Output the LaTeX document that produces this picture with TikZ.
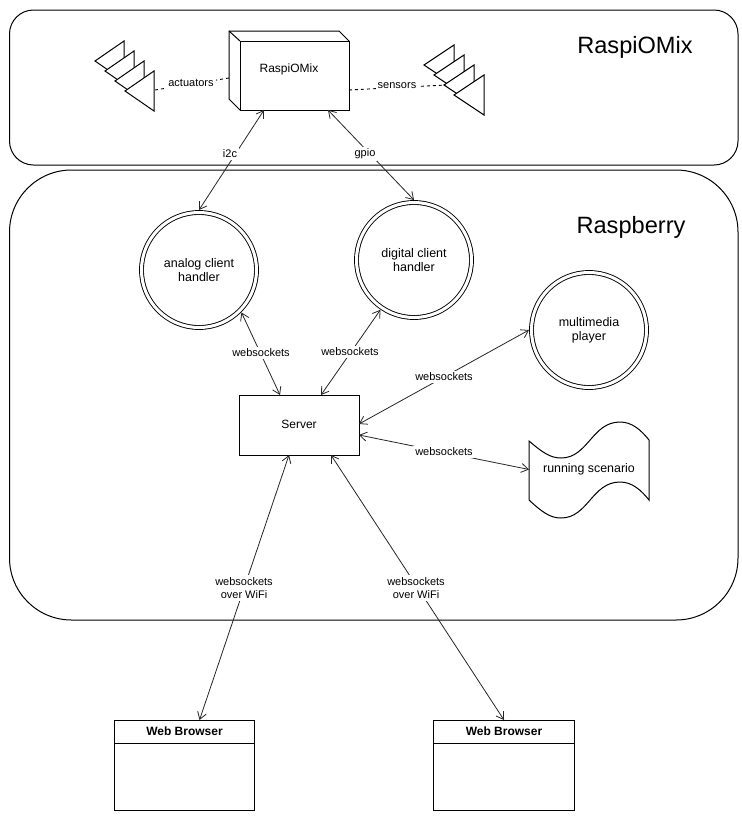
\documentclass[tikz,border=0pt]{standalone}
\usepackage{fontspec}
\setmainfont{Liberation Sans}
\usetikzlibrary{arrows.meta,shapes.geometric}
\tikzset{
  panel/.style={draw,line width=1pt,fill=white,anchor=north west,inner sep=0pt,outer sep=0pt},
  title/.style={font=\fontsize{23.6}{28}\selectfont,inner sep=0pt},
  handler/.style={circle,draw,double,double distance=3pt,line width=.9pt,fill=white,minimum size=115pt,inner sep=0pt,outer sep=2.5pt,align=center,font=\fontsize{12.5}{14}\selectfont},
  plainbox/.style={rectangle,draw,line width=1pt,fill=white,inner sep=0pt,outer sep=0pt,font=\fontsize{12}{14}\selectfont},
  lab/.style={fill=white,inner sep=2pt,align=center,font=\fontsize{11}{13.2}\selectfont},
  conn/.style={{Straight Barb[length=7pt,width=9pt]}-{Straight Barb[length=7pt,width=9pt]},line width=.8pt,black!85},
  dashline/.style={dash pattern=on 3pt off 3pt,line width=.9pt},
  tri/.style={draw,line width=1pt,fill=white,line join=miter},
}
\begin{document}
\begin{tikzpicture}[x=1pt,y=-1pt]
\useasboundingbox (0,0) rectangle (742,820);
% panels
\node[panel,rounded corners=24pt,minimum width=728.5pt,minimum height=155pt] (pi) at (9.5,10) {};
\node[panel,rounded corners=62pt,minimum width=728.5pt,minimum height=450pt] (berry) at (9.5,170) {};
\node[title] (tpi) at (635,47) {RaspiOMix};
\node[title] (tberry) at (631,227) {Raspberry};
% device box
\coordinate (bkA) at (229,31);
\coordinate (bkB) at (339,31);
\coordinate (bkC) at (229,99);
\node[plainbox,minimum width=109pt,minimum height=69pt] (mix) at (294.5,75.5) {};
\draw[line width=1pt,line join=miter] (mix.north east) -- (bkB) -- (bkA) -- (bkC) -- (mix.south west);
\draw[line width=1pt] (bkA) -- (mix.north west);
\node[font=\fontsize{12}{14}\selectfont,inner sep=0pt] (mixt) at (289,69) {RaspiOMix};
% triangles
\foreach \i in {0,1,2,3}{
  \draw[tri] (95+10*\i,61+10*\i) -- (124+10*\i,41+10*\i) -- (124+10*\i,81+10*\i) -- cycle;
  \draw[tri] (424+10*\i,65+10*\i) -- (454+10*\i,45+10*\i) -- (454+10*\i,85+10*\i) -- cycle;
}
\coordinate (act) at (155,90);
\coordinate (sen) at (446,85);
\coordinate (mixl) at (229,78);
\coordinate (mixr) at (349,90);
% client nodes
\node[handler] (analog) at (199,270) {analog client\\handler};
\node[handler] (digital) at (414,260) {digital client\\handler};
\node[handler] (multi) at (589,330) {multimedia\\player};
\node[plainbox,minimum width=120pt,minimum height=60pt] (server) at (299,425) {\raisebox{2pt}{Server}};
% scenario
\draw[line width=1pt,fill=white,line join=miter]
  (529,441) .. controls (542,452) and (550,458) .. (561,458)
  .. controls (588,458) and (592,422) .. (620,422)
  .. controls (632,422) and (641,430) .. (649,440)
  -- (649,500)
  .. controls (641,490) and (632,482) .. (620,482)
  .. controls (592,482) and (588,518) .. (561,518)
  .. controls (550,518) and (542,512) .. (529,500) -- cycle;
\node[inner sep=0pt,minimum width=120pt,minimum height=30pt,outer sep=0pt,font=\fontsize{12.4}{14}\selectfont] (scen) at (589,469.5) {running scenario};
% browsers
\node[plainbox,minimum width=140.5pt,minimum height=90pt] (b1) at (184.5,765) {};
\node[plainbox,minimum width=140.5pt,minimum height=90pt] (b2) at (504,765) {};
\draw[line width=1pt] ([yshift=-23pt]b1.north west) -- ([yshift=-23pt]b1.north east);
\draw[line width=1pt] ([yshift=-23pt]b2.north west) -- ([yshift=-23pt]b2.north east);
\node[font=\bfseries\fontsize{12}{14}\selectfont,inner sep=0pt] (b1t) at (184.5,731) {Web Browser};
\node[font=\bfseries\fontsize{12}{14}\selectfont,inner sep=0pt] (b2t) at (504,731) {Web Browser};
% connectors
\draw[dashline] (act) -- (mixl);
\draw[dashline] (mixr) -- (sen);
\draw[conn] ([xshift=24pt]mix.south west) -- (analog.90);
\draw[conn] ([xshift=-21pt]mix.south east) -- (digital.90);
\draw[conn] (analog.-45) -- ([xshift=41pt]server.north west);
\draw[conn] (digital.-124) -- ([xshift=-38pt]server.north east);
\draw[conn] (multi.180) -- ([yshift=-29pt]server.north east);
\draw[conn] (scen.west) -- ([yshift=-40pt]server.north east);
\draw[conn] ([xshift=-10pt]server.south) -- ([xshift=15pt]b1.north);
\draw[conn] ([xshift=32pt]server.south) -- (b2.north);
% labels
\node[lab] (l1) at (191,83) {actuators};
\node[lab] (l2) at (397,86) {sensors};
\node[lab] (l3) at (230,154) {i2c};
\node[lab] (l4) at (365,154) {gpio};
\node[lab] (l5) at (261,353) {websockets};
\node[lab] (l6) at (350,352) {websockets};
\node[lab] (l7) at (444,377) {websockets};
\node[lab] (l8) at (444,452) {websockets};
\node[lab] (l9) at (244,588) {websockets\\over WiFi};
\node[lab] (l10) at (416,588) {websockets\\over WiFi};
\end{tikzpicture}
\end{document}
